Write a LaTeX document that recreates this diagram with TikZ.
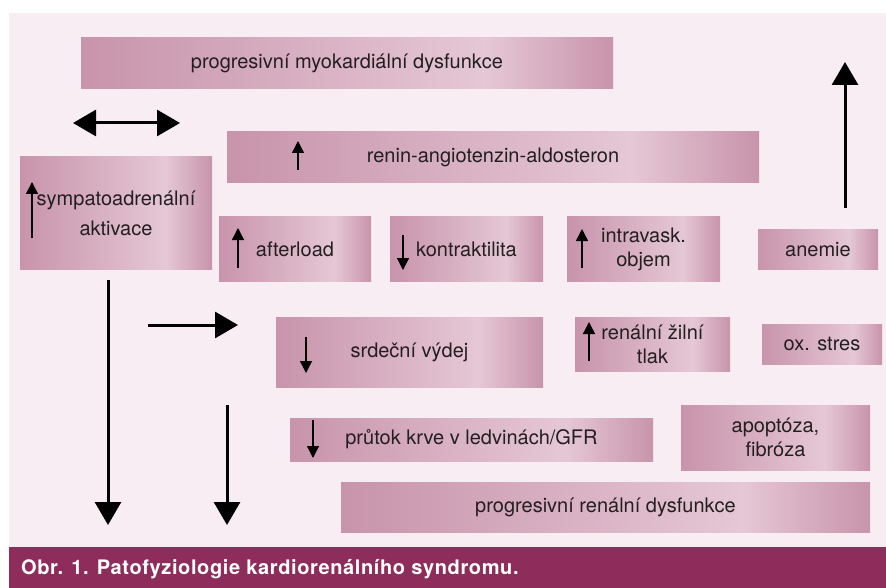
\documentclass[tikz,border=0pt]{standalone}
\usepackage{fontspec}
\setmainfont{TeX Gyre Heros}
\newfontfamily\capfont[LetterSpace=3.1]{TeX Gyre Heros}
\usetikzlibrary{arrows.meta}
\definecolor{bg}{RGB}{247,237,243}
\definecolor{rd}{RGB}{200,148,171}
\definecolor{rl}{RGB}{229,199,213}
\definecolor{vi}{RGB}{142,45,91}
\definecolor{ink}{RGB}{35,31,32}
\pgfdeclarehorizontalshading{pinkbar}{100bp}{color(0bp)=(rd); color(25bp)=(rd); color(63bp)=(rl); color(75bp)=(rd); color(100bp)=(rd)}

\begin{document}
\begin{tikzpicture}[x=1pt,y=-1pt,
  box/.style={shade,shading=pinkbar,inner sep=0pt,align=center,text=ink,font=\fontsize{20}{24}\selectfont},
  bigarr/.style={>={Triangle[length=23pt,width=26pt]},line width=3pt},
  markarr/.style={-{Triangle[length=12pt,width=12pt]},line width=1.3pt}]
  \useasboundingbox (0,0) rectangle (886,588);

  % background + caption bar
  \fill[bg] (9,13) rectangle (886,547);
  \fill[vi] (9,547) rectangle (886,588);
  \node[anchor=west,inner sep=0pt,text=white,font=\capfont\bfseries\fontsize{20}{24}\selectfont] (cap) at (21,569) {Obr. 1. Patofyziologie kardiorenálního syndromu.};

  % top rows
  \node[box,minimum width=532,minimum height=51] (myo) at (347,63.5) {progresivní myokardiální dysfunkce};
  \node[box,minimum width=532,minimum height=51] (raas) at (493,157.5) {renin-angiotenzin-aldosteron};
  \node[box,minimum width=192,minimum height=112] (sym) at (116,213) {sympatoadrenální\\[6pt]aktivace};

  % middle row
  \node[box,minimum width=152,minimum height=64] (aft) at (295,249) {afterload};
  \node[box,minimum width=153,minimum height=64] (kon) at (466.5,249) {kontraktilita};
  \node[box,minimum width=153,minimum height=64] (obj) at (643.5,249) {intravask.\\objem};
  \node[box,minimum width=120,minimum height=39] (ane) at (818,249.5) {anemie};

  \node[box,minimum width=267,minimum height=70] (co) at (409.5,352) {srdeční výdej};
  \node[box,minimum width=155,minimum height=54] (rzt) at (652.5,344) {renální žilní\\tlak};
  \node[box,minimum width=120,minimum height=40] (ox) at (822,344) {ox. stres};

  % bottom rows
  \node[box,minimum width=363,minimum height=43] (gfr) at (471.5,439.5) {průtok krve v ledvinách/GFR};
  \node[box,minimum width=189,minimum height=65] (apo) at (775.5,437.5) {apoptóza,\\fibróza};
  \node[box,minimum width=529,minimum height=50] (rdys) at (605.5,507) {progresivní renální dysfunkce};

  % up / down marks in the boxes
  \foreach \x/\ya/\yb in {298/170/141, 32/238/182, 238/268/228, 403/235/270, 582/268/229, 306/337/373, 589/361/322, 313/420/458}
    \draw[markarr] (\x,\ya) -- (\x,\yb);

  % big arrows
  \coordinate (lr-l) at (73,123);
  \coordinate (lr-r) at (180,123);
  \coordinate (co-a) at (148,325);
  \coordinate (co-b) at (238,325);
  \coordinate (sy-a) at (108,280);
  \coordinate (sy-b) at (108,525);
  \coordinate (gf-a) at (227,405);
  \coordinate (gf-b) at (227,525);
  \coordinate (an-a) at (845,208);
  \coordinate (an-b) at (845,62);

  \draw[bigarr,<->] (lr-l) -- (lr-r);
  \draw[bigarr,->] (co-a) -- (co-b);
  \draw[bigarr,->] (sy-a) -- (sy-b);
  \draw[bigarr,->] (gf-a) -- (gf-b);
  \draw[bigarr,->] (an-a) -- (an-b);
\end{tikzpicture}
\end{document}
